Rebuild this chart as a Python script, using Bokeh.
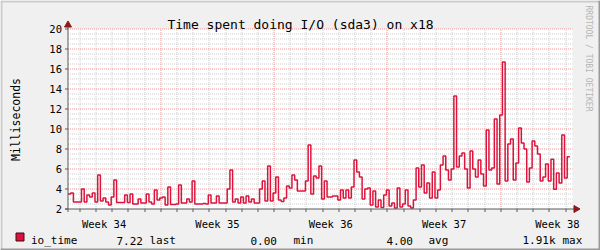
import numpy as np
from bokeh.plotting import figure
from bokeh.models import Range1d
from bokeh.core.properties import value
from bokeh.embed import file_html
from bokeh.resources import INLINE

# ---------------- data ----------------
TITLE = "Time spent doing I/O (sda3) on x18"
Y_LABEL = "Milliseconds"
WATERMARK = "RRDTOOL / TOBI OETIKER"
SERIES_NAME = "io_time"
WEEK_LABELS = ["Week 34", "Week 35", "Week 36", "Week 37", "Week 38"]
WEEK34_START_DAY = -1.27          # start of week 34, in days relative to the first sample
Y_TICKS = [2, 4, 6, 8, 10, 12, 14, 16, 18, 20]
Y_TICK_LABELS = ["2", "4", "6", "8", "10", "12", "14", "16", "18", "20"]
STEP_HOURS = 4
LEGEND_VALUES = ["7.22", "0.00", "4.00", "1.91k"]
LEGEND_NAMES = ["last", "min", "avg", "max"]

IO_TIME = [
    3.5, 3.6, 2.7, 2.7, 2.7, 4.0, 2.7, 3.4, 3.2, 3.6,
    2.7, 5.4, 2.8, 3.1, 2.7, 2.4, 3.2, 4.9, 2.65, 2.65,
    2.65, 3.4, 2.65, 3.5, 2.5, 2.5, 3.0, 2.6, 2.6, 3.5,
    2.7, 2.5, 3.9, 2.9, 3.1, 3.2, 2.4, 4.2, 2.45, 2.45,
    2.5, 4.4, 2.6, 2.6, 3.0, 2.7, 4.8, 2.5, 2.5, 2.5,
    2.55, 2.5, 3.4, 2.6, 2.6, 3.3, 2.6, 2.6, 2.6, 4.0,
    5.9, 2.7, 3.0, 2.6, 3.2, 2.6, 3.3, 2.7, 3.0, 2.6,
    2.6, 4.0, 4.8, 2.8, 6.3, 2.8, 3.6, 5.2, 2.9, 2.75,
    3.1, 4.3, 4.1, 5.4, 4.9, 3.8, 3.8, 3.8, 4.8, 8.4,
    3.5, 5.3, 5.1, 6.3, 3.0, 4.8, 3.2, 3.2, 3.3, 3.3,
    2.9, 3.9, 3.1, 3.9, 3.1, 4.2, 6.9, 5.7, 5.2, 3.0,
    4.0, 4.1, 2.4, 3.8, 2.2, 2.9, 2.15, 3.4, 3.9, 2.3,
    2.6, 2.1, 4.1, 2.2, 2.5, 3.9, 2.3, 2.1, 2.9, 6.1,
    4.2, 6.4, 3.6, 4.6, 3.1, 5.7, 3.1, 3.9, 6.4, 7.3,
    5.9, 4.9, 6.0, 13.3, 6.2, 7.3, 7.6, 6.0, 4.1, 7.8,
    6.0, 5.2, 6.9, 5.5, 4.3, 9.9, 5.9, 6.1, 11.0, 4.5,
    11.4, 16.7, 4.8, 8.5, 9.0, 4.9, 6.6, 10.1, 8.6, 8.0,
    4.7, 6.1, 8.8, 8.3, 7.5, 4.8, 5.2, 6.5, 4.8, 6.97,
    3.97, 5.6, 4.6, 9.4, 5.1, 7.22,
]

# ---------------- layout constants (pixels) ----------------
W, H = 600, 250
FRAME_L, FRAME_R, FRAME_T, FRAME_B = 67.5, 572.0, 28.5, 208.5
PX_PER_DAY = 16.19
Y_MIN, Y_MAX = 2, 20
PX_PER_UNIT = (FRAME_B - FRAME_T) / (Y_MAX - Y_MIN)

FONT = "DejaVu Sans Mono"
LINE_C = "#DC143C"
AXIS_C = "#5A5A5A"
ARROW_C = "#8B1A1A"
MGRID_C = "#F39494"
GRID_C = "#CDCDCD"
BACK_C = "#F0F0F0"
SHADE_A = "#CBCBCB"
SHADE_B = "#999999"


def dx(px):
    return (px - FRAME_L) / PX_PER_DAY


def dy(py):
    return Y_MIN + (FRAME_B - py) / PX_PER_UNIT


def sx(t):
    return FRAME_L + t * PX_PER_DAY


def snap_t(t):
    # put a day line on a pixel centre so the dotted line stays crisp
    return dx(np.floor(sx(t)) + 0.5)


# ---------------- derived series ----------------
step_days = STEP_HOURS / 24.0
n = len(IO_TIME)
xs = np.arange(n + 1) * step_days
ys = list(IO_TIME) + [IO_TIME[-1]]

X_END = dx(FRAME_R)
week_bounds = [WEEK34_START_DAY + 7 * k for k in range(len(WEEK_LABELS) + 1)]
week_mids = [b + 3.5 for b in week_bounds[:-1]]
all_days = [WEEK34_START_DAY + d for d in range(0, 7 * len(WEEK_LABELS) + 1)]
day_minor = [snap_t(t) for i, t in enumerate(all_days) if i % 7 != 0 and 0 < t < X_END]
day_major = [snap_t(t) for t in week_bounds if 0 < t < X_END]
day_ticks = [snap_t(t) for t in all_days if 0 < t < X_END]
y_major = [v for v in Y_TICKS if v > Y_MIN]
y_minor = [Y_MIN + 0.5 * k for k in range(1, int((Y_MAX - Y_MIN) * 2) + 1)
           if (Y_MIN + 0.5 * k) not in Y_TICKS]

# ---------------- figure: the frame is the whole canvas ----------------
p = figure(width=W, height=H, output_backend="svg", toolbar_location=None,
           x_range=Range1d(dx(0), dx(W)), y_range=Range1d(dy(H), dy(0)),
           x_axis_location=None, y_axis_location=None, title_location=None,
           min_border=0, min_border_left=0, min_border_right=0,
           min_border_top=0, min_border_bottom=0,
           background_fill_color=BACK_C, border_fill_color=BACK_C,
           outline_line_color=None)
p.grid.visible = False

# shaded 3D frame around the image
p.quad(left=[dx(0), dx(0)], right=[dx(W), dx(2)], top=[dy(0), dy(0)],
       bottom=[dy(2), dy(H)], fill_color=SHADE_A, line_color=None)
p.quad(left=[dx(0), dx(W - 2)], right=[dx(W), dx(W)], top=[dy(H - 2), dy(0)],
       bottom=[dy(H), dy(H)], fill_color=SHADE_B, line_color=None)

# white canvas of the graph
p.quad(left=[0], right=[X_END], top=[Y_MAX], bottom=[Y_MIN],
       fill_color="#FFFFFF", line_color=None)

# grid: minor then major, dotted
p.segment(x0=[0] * len(y_minor), x1=[X_END] * len(y_minor), y0=y_minor, y1=y_minor,
          line_color=GRID_C, line_width=1, line_dash="1 1")
p.segment(x0=day_minor, x1=day_minor, y0=[Y_MIN] * len(day_minor),
          y1=[Y_MAX] * len(day_minor), line_color=GRID_C, line_width=1, line_dash="1 1")
p.segment(x0=[0] * len(y_major), x1=[X_END] * len(y_major), y0=y_major, y1=y_major,
          line_color=MGRID_C, line_width=1, line_dash="1 1")
p.segment(x0=day_major, x1=day_major, y0=[Y_MIN] * len(day_major),
          y1=[Y_MAX] * len(day_major), line_color=MGRID_C, line_width=1, line_dash="1 1")

# series
p.step(xs, ys, mode="after", line_color=LINE_C, line_width=1.5)

# axes: lines, ticks and arrows
p.segment(x0=[0, dx(FRAME_L - 3)], x1=[0, dx(575)], y0=[dy(FRAME_B + 3), Y_MIN],
          y1=[dy(23), Y_MIN], line_color=AXIS_C, line_width=1)
p.segment(x0=[dx(FRAME_L - 3)] * len(Y_TICKS), x1=[0] * len(Y_TICKS),
          y0=Y_TICKS, y1=Y_TICKS, line_color=AXIS_C, line_width=1)
p.segment(x0=day_ticks, x1=day_ticks, y0=[dy(FRAME_B + 3)] * len(day_ticks),
          y1=[Y_MIN] * len(day_ticks), line_color=AXIS_C, line_width=1)
p.scatter(x=[0], y=[dy(24.5)], marker="triangle", size=7,
          fill_color=ARROW_C, line_color=ARROW_C)
p.scatter(x=[dx(575.5)], y=[Y_MIN], marker="triangle", size=7, angle=-np.pi / 2,
          fill_color=ARROW_C, line_color=ARROW_C)

# tick labels
p.text(x=[dx(61.5)] * len(Y_TICKS), y=Y_TICKS, text=Y_TICK_LABELS,
       text_align="right", text_baseline="middle",
       text_font=value(FONT), text_font_size=value("10.5px"), text_color="#000000")
p.text(x=week_mids, y=[dy(223)] * len(week_mids), text=WEEK_LABELS,
       text_align="center", text_baseline="alphabetic",
       text_font=value(FONT), text_font_size=value("10.5px"), text_color="#000000")

# title, axis label, watermark
p.text(x=[dx(300)], y=[dy(24)], text=[TITLE], text_align="center",
       text_baseline="alphabetic", text_font=value(FONT),
       text_font_size=value("13px"), text_color="#000000")
p.text(x=[dx(15)], y=[dy(119)], text=[Y_LABEL], angle=np.pi / 2,
       text_align="center", text_baseline="alphabetic", text_font=value(FONT),
       text_font_size=value("11.5px"), text_color="#000000")
p.text(x=[dx(587.5)], y=[dy(5)], text=[WATERMARK], angle=-np.pi / 2,
       text_align="left", text_baseline="alphabetic", text_font=value(FONT),
       text_font_size=value("8px"), text_color="#B5B5B5")

# legend line
p.quad(left=[dx(15.5)], right=[dx(23.5)], top=[dy(232.5)], bottom=[dy(240.5)],
       fill_color=LINE_C, line_color="#3A0A12", line_width=1)
LEG_BASE = dy(240)
p.text(x=[dx(30.5)], y=[LEG_BASE], text=[SERIES_NAME], text_baseline="alphabetic",
       text_font=value(FONT), text_font_size=value("11px"), text_color="#000000")
val_px = [116, 250, 386, 522]
name_px = [149, 293, 428, 562]
p.text(x=[dx(v) for v in val_px], y=[LEG_BASE] * len(val_px), text=LEGEND_VALUES,
       text_baseline="alphabetic", text_font=value(FONT),
       text_font_size=value("11px"), text_color="#000000")
p.text(x=[dx(v) for v in name_px], y=[LEG_BASE] * len(name_px), text=LEGEND_NAMES,
       text_baseline="alphabetic", text_font=value(FONT),
       text_font_size=value("11px"), text_color="#000000")

open("out.html", "w").write(file_html(p, INLINE))
